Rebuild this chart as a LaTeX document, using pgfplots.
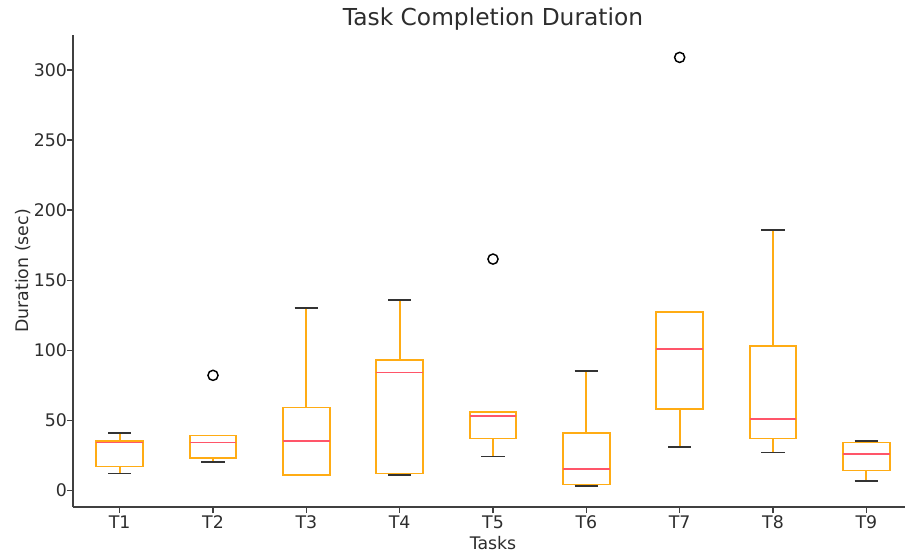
\documentclass[border=0pt]{standalone}
\usepackage{pgfplots}
\pgfplotsset{compat=1.18}
\usepgfplotslibrary{statistics}
\usepackage{fontspec}
\setmainfont{DejaVu Sans}
\definecolor{boxcol}{RGB}{255,172,20}
\definecolor{medcol}{RGB}{255,85,105}
\definecolor{txtcol}{RGB}{45,45,45}
\pgfplotsset{
  mybox/.style={
    draw=boxcol, line width=1.3pt,
    mark=o, mark size=3.8pt, mark options={draw=black, line width=1.1pt, solid},
    boxplot/draw direction=y,
    boxplot/box extend=0.5,
    boxplot/whisker extend=0.25,
    boxplot/every box/.style={draw=boxcol, line width=1.3pt},
    boxplot/every median/.style={draw=medcol, line width=1.3pt},
    boxplot/draw/lower whisker/.code={%
      \draw[draw=boxcol, line width=1.3pt]
        (boxplot box cs:\pgfplotsboxplotvalue{lower quartile},0.5) --
        (boxplot box cs:\pgfplotsboxplotvalue{lower whisker},0.5);
      \draw[draw=black!80, line width=1.3pt]
        (boxplot whisker cs:\pgfplotsboxplotvalue{lower whisker},0) --
        (boxplot whisker cs:\pgfplotsboxplotvalue{lower whisker},1);
    },
    boxplot/draw/upper whisker/.code={%
      \draw[draw=boxcol, line width=1.3pt]
        (boxplot box cs:\pgfplotsboxplotvalue{upper quartile},0.5) --
        (boxplot box cs:\pgfplotsboxplotvalue{upper whisker},0.5);
      \draw[draw=black!80, line width=1.3pt]
        (boxplot whisker cs:\pgfplotsboxplotvalue{upper whisker},0) --
        (boxplot whisker cs:\pgfplotsboxplotvalue{upper whisker},1);
    },
  }
}
\begin{document}
\begin{tikzpicture}
\path[use as bounding box] (-54.75pt,-36.75pt) rectangle (624pt,380.25pt);
\begin{axis}[
  at={(0,0)}, anchor=south west,
  scale only axis, width=630pt, height=354pt,
  xmin=0.5, xmax=9.5, ymin=-12, ymax=325,
  axis x line*=bottom, axis y line*=left,
  axis line style={draw=black!75, line width=0.9pt},
  tick align=outside, tick style={draw=black!75, line width=0.9pt},
  major tick length=4.5pt,
  xtick={1,2,3,4,5,6,7,8,9},
  xticklabels={T1,T2,T3,T4,T5,T6,T7,T8,T9},
  ytick={0,50,100,150,200,250,300},
  /pgf/number format/assume math mode=true,
  ticklabel style={font=\fontsize{13}{15}\selectfont, text=txtcol},
  yticklabel style={xshift=3.5pt},
  xticklabel style={yshift=1.5pt},
  xlabel={Tasks}, ylabel={Duration (sec)},
  label style={font=\fontsize{13}{15}\selectfont, text=txtcol},
  xlabel style={yshift=1.5pt},
  ylabel style={yshift=-4.5pt},
  title={Task Completion Duration},
  title style={font=\fontsize{17.5}{20}\selectfont, text=txtcol, yshift=-6pt},
  clip=false,
]
\addplot[mybox, boxplot prepared={draw position=1, lower whisker=12, lower quartile=17, median=34, upper quartile=35, upper whisker=41}] coordinates {};
\addplot[mybox, boxplot prepared={draw position=2, lower whisker=20, lower quartile=23, median=34, upper quartile=39, upper whisker=39}] table[row sep=\\, y index=0] {data\\ 82\\};
\addplot[mybox, boxplot prepared={draw position=3, lower whisker=11, lower quartile=11, median=35, upper quartile=59, upper whisker=130}] coordinates {};
\addplot[mybox, boxplot prepared={draw position=4, lower whisker=11, lower quartile=12, median=84, upper quartile=93, upper whisker=136}] coordinates {};
\addplot[mybox, boxplot prepared={draw position=5, lower whisker=24, lower quartile=37, median=53, upper quartile=56, upper whisker=56}] table[row sep=\\, y index=0] {data\\ 165\\};
\addplot[mybox, boxplot prepared={draw position=6, lower whisker=3, lower quartile=4, median=15, upper quartile=41, upper whisker=85}] coordinates {};
\addplot[mybox, boxplot prepared={draw position=7, lower whisker=31, lower quartile=58, median=101, upper quartile=127, upper whisker=127}] table[row sep=\\, y index=0] {data\\ 309\\};
\addplot[mybox, boxplot prepared={draw position=8, lower whisker=27, lower quartile=37, median=51, upper quartile=103, upper whisker=186}] coordinates {};
\addplot[mybox, boxplot prepared={draw position=9, lower whisker=6.5, lower quartile=14, median=26, upper quartile=34, upper whisker=35}] coordinates {};
\end{axis}
\end{tikzpicture}
\end{document}
